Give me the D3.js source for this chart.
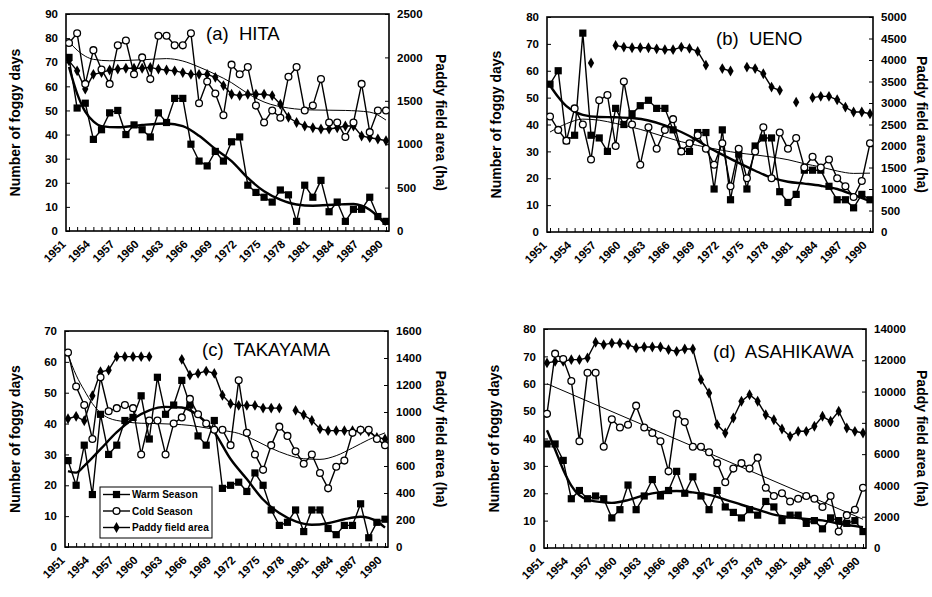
<!DOCTYPE html>
<html>
<head>
<meta charset="utf-8">
<script src="https://cdn.jsdelivr.net/npm/d3@7"></script>
<style>
  body { margin: 0; background: #fff; }
  svg { display: block; font-family: "Liberation Sans", Arial, sans-serif; }
</style>
</head>
<body>
<svg id="chart" width="932" height="597"></svg>
<script>
// ---- data ----
const years = d3.range(1951, 1991);
const yearLabels = [1951, 1954, 1957, 1960, 1963, 1966, 1969, 1972, 1975, 1978, 1981, 1984, 1987, 1990];
const seriesNames = ["Warm Season", "Cold Season", "Paddy field area"];

const hitaWarm  = [72,51,53,38,42,49,50,40,44,42,39,49,45,55,55,36,29,27,33,29,37,39,19,16,14,12,17,15,4,19,14,21,8,12,4,9,9,14,6,4];
const hitaCold  = [78,82,61,75,67,61,77,79,65,72,63,81,81,77,77,82,53,62,57,48,69,65,68,52,45,50,47,64,68,50,52,63,45,45,39,45,61,41,50,50];
const hitaPaddy = [1960,1845,1635,1805,1825,1855,1865,1875,1875,1875,1885,1865,1855,1845,1825,1805,1805,1805,1770,1675,1575,1560,1575,1575,1575,1560,1460,1310,1250,1210,1190,1175,1175,1190,1210,1210,1095,1075,1060,1040];
const hitaWarmTrend = [[1951,68],[1952,57],[1953,49.5],[1954,45.5],[1955,43.5],[1957,43],[1960,44],[1963,44.6],[1965,43.5],[1967,39.5],[1969,34],[1971,29],[1973,22],[1975,16.5],[1977,13],[1979,11],[1981,10.5],[1984,11],[1986,11.2],[1987,10.5],[1988,8.8],[1989,6],[1990,2.5]];
const hitaColdTrend = [[1951,78.5],[1952,75],[1953,72.5],[1954,71.2],[1956,70.6],[1960,71],[1963,71.5],[1965,70.5],[1967,68],[1969,65],[1971,61.5],[1973,57],[1975,53.5],[1978,51],[1981,50.2],[1985,50],[1988,49.3],[1990,46]];

const uenoWarm  = [55,60,34,36,74,36,35,30,46,40,44,47,49,46,46,38,30,30,37,37,16,38,12,29,16,32,35,35,15,11,14,23,23,23,17,12,12,9,14,12];
const uenoCold  = [43,38,34,46,40,27,49,51,32,56,40,25,39,31,38,42,30,33,36,31,25,33,17,31,20,30,39,20,37,31,35,24,28,24,27,20,17,13,19,33];
const uenoPaddy = [null,null,null,null,null,3930,null,null,4340,4300,4285,4285,4285,4260,4240,4240,4300,4270,4200,3880,null,3800,3745,null,3835,3800,3680,3370,3295,null,3020,null,3125,3155,3155,3075,2905,2790,2790,2750];
const uenoWarmTrend = [[1951,54.5],[1952,50.2],[1953,46.8],[1954,44.8],[1955,43.6],[1957,42.8],[1959,42.7],[1961,42.4],[1963,41.5],[1965,39.7],[1967,37.2],[1969,34],[1970,32],[1972,28.8],[1974,25.7],[1976,22.8],[1978,20.2],[1980,18.7],[1982,18],[1984,17.2],[1986,16],[1988,13.8],[1990,11.5]];
const uenoColdTrend = [[1951,37.2],[1953,40.3],[1955,42],[1957,41.6],[1959,40.4],[1961,39],[1963,37.3],[1965,35.4],[1967,33.6],[1969,32.2],[1972,30.4],[1974,29.4],[1976,28.7],[1978,27.9],[1980,26.9],[1982,25.4],[1984,24.2],[1986,22.7],[1988,21.8],[1990,21.9]];

const takayamaWarm  = [28,20,33,17,43,30,33,41,42,49,35,55,43,46,54,46,36,33,41,19,20,21,18,24,20,12,7,8,12,5,12,12,6,4,7,7,14,3,8,9];
const takayamaCold  = [63,52,46,35,55,44,45,46,45,30,41,41,30,40,42,48,43,40,38,38,33,54,37,30,25,33,39,36,31,27,30,24,19,26,28,37,38,38,35,33];
const takayamaPaddy = [950,968,935,1120,1298,1310,1410,1410,1410,1410,1410,null,null,null,1390,1273,1286,1303,1286,1124,1062,1049,1049,1049,1029,1029,1029,null,1012,979,937,875,862,862,862,862,862,855,812,800];
const takayamaWarmTrend = [[1951,24.6],[1952,24.1],[1953,26.3],[1955,31.7],[1957,37.2],[1959,41.5],[1961,44.3],[1963,45.4],[1965,45.2],[1967,42.6],[1969,37.2],[1971,28.5],[1973,22],[1975,15.4],[1977,11],[1979,8.3],[1981,7.2],[1983,7.7],[1985,9],[1987,9.8],[1989,8.3],[1990,6.3]];
const takayamaColdTrend = [[1951,62.3],[1952,55.7],[1953,50.8],[1954,46.5],[1955,43.5],[1956,41.8],[1958,40.6],[1960,40.1],[1962,40],[1964,39.8],[1966,39.4],[1968,38.6],[1970,37.8],[1972,36.8],[1974,34.6],[1976,32],[1978,29.9],[1980,28.6],[1982,28.4],[1984,29.6],[1986,32.1],[1988,34.8],[1990,37]];

const asahikawaWarm  = [38,38,32,18,21,18,19,18,11,14,23,14,19,25,19,21,28,20,26,19,14,21,15,13,11,14,12,17,15,10,12,12,9,10,7,11,10,9,10,6];
const asahikawaCold  = [49,71,69,61,39,64,64,37,47,44,45,52,44,42,39,28,49,46,37,37,35,31,24,29,31,29,33,22,19,20,17,18,19,18,15,19,6,12,14,22];
const asahikawaPaddy = [11830,11930,11930,12040,12040,12150,13150,13000,13100,13100,13000,12790,12850,12850,12850,12680,12570,12720,12720,10760,9910,7890,7350,8310,9380,9800,9380,8520,8200,7610,7140,7460,7460,7780,8420,8100,8740,7670,7460,7350];
const asahikawaWarmTrend = [[1951,43],[1952,36],[1953,28.6],[1954,22.8],[1955,19.2],[1956,17.7],[1958,16.7],[1959,16.5],[1961,17.5],[1963,19.3],[1965,20.4],[1967,20.8],[1969,20.3],[1971,19.4],[1973,17.7],[1975,15.8],[1977,14],[1979,12.2],[1981,11.3],[1983,10.6],[1985,10.1],[1987,8.9],[1990,7.6]];
const asahikawaColdTrend = [[1951,60],[1990,10.5]];

// ---- layout ----
const panels = [
  { title: "(a)  HITA", warm: hitaWarm, cold: hitaCold, paddy: hitaPaddy,
    warmTrend: hitaWarmTrend, coldTrend: hitaColdTrend,
    left: 66, right: 389, top: 14, bottom: 231, yMax: 90, y2Max: 2500, y2Step: 500,
    titleX: 206, titleY: 40, leftTitleX: 20, rightTitleX: 436, legend: false },
  { title: "(b)  UENO", warm: uenoWarm, cold: uenoCold, paddy: uenoPaddy,
    warmTrend: uenoWarmTrend, coldTrend: uenoColdTrend,
    left: 547, right: 873, top: 17, bottom: 232, yMax: 80, y2Max: 5000, y2Step: 500,
    titleX: 716, titleY: 45, leftTitleX: 501, rightTitleX: 917, legend: false },
  { title: "(c)  TAKAYAMA", warm: takayamaWarm, cold: takayamaCold, paddy: takayamaPaddy,
    warmTrend: takayamaWarmTrend, coldTrend: takayamaColdTrend,
    left: 65, right: 388, top: 331, bottom: 547, yMax: 70, y2Max: 1600, y2Step: 200,
    titleX: 202, titleY: 356, leftTitleX: 20, rightTitleX: 436, legend: true },
  { title: "(d)  ASAHIKAWA", warm: asahikawaWarm, cold: asahikawaCold, paddy: asahikawaPaddy,
    warmTrend: asahikawaWarmTrend, coldTrend: asahikawaColdTrend,
    left: 544, right: 866, top: 329, bottom: 548, yMax: 80, y2Max: 14000, y2Step: 2000,
    titleX: 713, titleY: 358, leftTitleX: 499, rightTitleX: 917, legend: false }
];

const svg = d3.select("#chart");
const tickFont = "bold 11.5px 'Liberation Sans', Arial, sans-serif";
const axisTitleFont = "bold 14px 'Liberation Sans', Arial, sans-serif";

function drawSquare(sel, x, y, vals) {
  sel.selectAll(null).data(years.map((yr, i) => [yr, vals[i]]).filter(d => d[1] != null))
    .join("rect").attr("x", d => x(d[0]) - 3.6).attr("y", d => y(d[1]) - 3.6)
    .attr("width", 7.2).attr("height", 7.2).attr("fill", "#000");
}
function drawCircle(sel, x, y, vals) {
  sel.selectAll(null).data(years.map((yr, i) => [yr, vals[i]]).filter(d => d[1] != null))
    .join("circle").attr("cx", d => x(d[0])).attr("cy", d => y(d[1])).attr("r", 3.4)
    .attr("fill", "#fff").attr("stroke", "#000").attr("stroke-width", 1.3);
}
function drawDiamond(sel, x, y, vals) {
  sel.selectAll(null).data(years.map((yr, i) => [yr, vals[i]]).filter(d => d[1] != null))
    .join("path").attr("d", d3.symbol(d3.symbolDiamond, 34))
    .attr("transform", d => `translate(${x(d[0])},${y(d[1])})`).attr("fill", "#000");
}

panels.forEach((p, pi) => {
  const g = svg.append("g");
  const x = d3.scaleLinear().domain([1951, 1990]).range([p.left + 3, p.right - 3]);
  const y = d3.scaleLinear().domain([0, p.yMax]).range([p.bottom, p.top]);
  const y2 = d3.scaleLinear().domain([0, p.y2Max]).range([p.bottom, p.top]);

  const clipId = "clip" + pi;
  g.append("clipPath").attr("id", clipId).append("rect")
    .attr("x", p.left).attr("y", p.top).attr("width", p.right - p.left).attr("height", p.bottom - p.top);

  // axes with inward ticks
  const ax = g.append("g").attr("transform", `translate(0,${p.bottom})`)
    .call(d3.axisBottom(x).tickValues(years).tickSizeInner(-4).tickSizeOuter(0)
      .tickFormat(d => yearLabels.includes(d) ? d : ""));
  ax.selectAll("text").attr("x", 0).attr("y", 0).attr("dy", 0)
    .attr("text-anchor", "end").attr("transform", "translate(-3,14) rotate(-45)")
    .style("font", tickFont).attr("fill", "#000");

  const ay = g.append("g").attr("transform", `translate(${p.left},0)`)
    .call(d3.axisLeft(y).tickValues(d3.range(0, p.yMax + 1, 10)).tickSizeInner(-4).tickSizeOuter(0).tickPadding(8));
  ay.selectAll("text").style("font", tickFont).attr("fill", "#000");

  const ay2 = g.append("g").attr("transform", `translate(${p.right},0)`)
    .call(d3.axisRight(y2).tickValues(d3.range(0, p.y2Max + 1, p.y2Step)).tickSizeInner(-4).tickSizeOuter(0)
      .tickPadding(8).tickFormat(d3.format("d")));
  ay2.selectAll("text").style("font", tickFont).attr("fill", "#000");

  [ax, ay, ay2].forEach(a => {
    a.select(".domain").remove();
    a.selectAll("line").attr("stroke", "#000").attr("stroke-width", 1);
  });

  g.append("rect").attr("x", p.left).attr("y", p.top)
    .attr("width", p.right - p.left).attr("height", p.bottom - p.top)
    .attr("fill", "none").attr("stroke", "#000").attr("stroke-width", 1.6);

  // axis titles
  const cy = (p.top + p.bottom) / 2;
  g.append("text").attr("transform", `translate(${p.leftTitleX},${cy}) rotate(-90)`)
    .attr("text-anchor", "middle").style("font", axisTitleFont)
    .text("Number of foggy days");
  g.append("text").attr("transform", `translate(${p.rightTitleX},${cy}) rotate(90)`)
    .attr("text-anchor", "middle").style("font", axisTitleFont)
    .text("Paddy field area (ha)");

  g.append("text").attr("x", p.titleX).attr("y", p.titleY)
    .style("font", "18.5px 'Liberation Sans', Arial, sans-serif").attr("xml:space", "preserve")
    .text(p.title);

  const plot = g.append("g").attr("clip-path", `url(#${clipId})`);
  const lineOf = (sc) => d3.line().defined(d => d[1] != null).x(d => x(d[0])).y(d => sc(d[1]));
  const pairs = vals => years.map((yr, i) => [yr, vals[i]]);
  const smooth = d3.line().curve(d3.curveMonotoneX).x(d => x(d[0])).y(d => y(d[1]));

  // trend curves
  plot.append("path").datum(p.warmTrend).attr("d", smooth)
    .attr("fill", "none").attr("stroke", "#000").attr("stroke-width", 2.4);
  plot.append("path").datum(p.coldTrend).attr("d", smooth)
    .attr("fill", "none").attr("stroke", "#000").attr("stroke-width", 1);

  // series lines
  plot.append("path").datum(pairs(p.paddy)).attr("d", lineOf(y2))
    .attr("fill", "none").attr("stroke", "#000").attr("stroke-width", 1.4);
  plot.append("path").datum(pairs(p.cold)).attr("d", lineOf(y))
    .attr("fill", "none").attr("stroke", "#000").attr("stroke-width", 1.4);
  plot.append("path").datum(pairs(p.warm)).attr("d", lineOf(y))
    .attr("fill", "none").attr("stroke", "#000").attr("stroke-width", 1.4);

  drawDiamond(plot.append("g"), x, y2, p.paddy);
  drawSquare(plot.append("g"), x, y, p.warm);
  drawCircle(plot.append("g"), x, y, p.cold);

  if (p.legend) {
    const lg = g.append("g").attr("transform", "translate(100,487)");
    lg.append("rect").attr("width", 112).attr("height", 51).attr("fill", "#fff")
      .attr("stroke", "#000").attr("stroke-width", 1);
    seriesNames.forEach((name, i) => {
      const ry = 7.5 + i * 16.5;
      lg.append("line").attr("x1", 3).attr("x2", 30).attr("y1", ry).attr("y2", ry)
        .attr("stroke", "#000").attr("stroke-width", 1.4);
      if (i === 0) lg.append("rect").attr("x", 12.9).attr("y", ry - 3.6).attr("width", 7.2).attr("height", 7.2);
      if (i === 1) lg.append("circle").attr("cx", 16.5).attr("cy", ry).attr("r", 3.4)
        .attr("fill", "#fff").attr("stroke", "#000").attr("stroke-width", 1.3);
      if (i === 2) lg.append("path").attr("d", d3.symbol(d3.symbolDiamond, 34)())
        .attr("transform", `translate(16.5,${ry})`);
      lg.append("text").attr("x", 32).attr("y", ry + 3.5)
        .style("font", "bold 10px 'Liberation Sans', Arial, sans-serif").text(name);
    });
  }
});
</script>
</body>
</html>
